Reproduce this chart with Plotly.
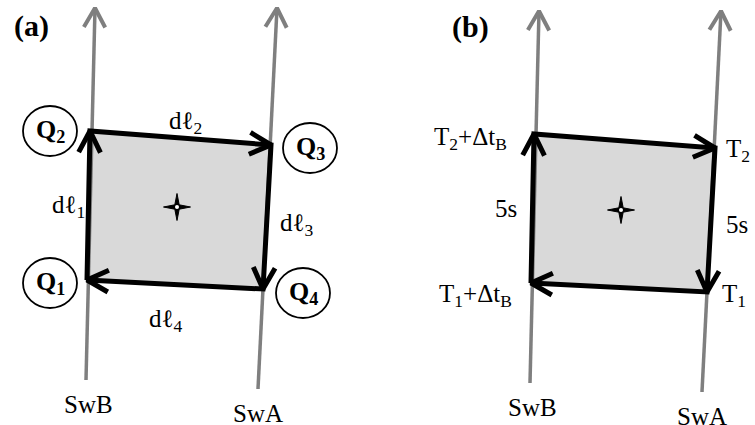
import math
import plotly.graph_objects as go

# ---- diagram data (pixel-like coordinates, y downward) ----
# panel (a) geometry
swb_line = [(86, 380), (95, 8)]      # SwB world line: bottom -> arrow tip
swa_line = [(258, 389), (277, 8)]    # SwA world line
loop_pts = [(87, 280), (90, 131), (271, 145), (263, 289)]  # Q1, Q2, Q3, Q4
star_center = (177, 207)
# panel (b) is the same diagram shifted
panel_offsets = [(0, 0), (444, 3)]
panel_names = ["(a)", "(b)"]
panel_name_pos = [(31, 26), (470, 27)]

# circled point labels of panel (a)
q_labels = ["Q<sub>1</sub>", "Q<sub>2</sub>", "Q<sub>3</sub>", "Q<sub>4</sub>"]
q_centers = [(50, 283), (50, 131), (310, 148), (303, 293)]

# segment labels of panel (a)
seg_labels = ["dℓ<sub>1</sub>", "dℓ<sub>2</sub>", "dℓ<sub>3</sub>", "dℓ<sub>4</sub>"]
seg_pos = [(68, 206), (185, 122), (296, 224), (165, 320)]

# time labels of panel (b)
time_labels = ["T<sub>2</sub>+Δt<sub>B</sub>", "5s", "T<sub>1</sub>+Δt<sub>B</sub>",
               "T<sub>2</sub>", "5s", "T<sub>1</sub>"]
time_pos = [(470, 138), (506, 208), (475, 295), (724, 150), (724, 224), (720, 295)]
time_anchor = ["center", "center", "center", "left", "left", "left"]

# switch labels (same for both panels, shifted)
sw_labels = ["SwB", "SwA"]
sw_pos = [(88, 404), (258, 413)]

GRAY = "#7f7f7f"
FILL = "#d9d9d9"
FONT = "Times New Roman, Liberation Serif, Tinos, serif"

fig = go.Figure()


def chevron(tail, tip, length, ang_deg):
    dx, dy = tip[0] - tail[0], tip[1] - tail[1]
    n = math.hypot(dx, dy)
    ux, uy = dx / n, dy / n
    pts = []
    for s in (1, -1):
        a = math.radians(ang_deg) * s
        rx = ux * math.cos(a) - uy * math.sin(a)
        ry = ux * math.sin(a) + uy * math.cos(a)
        pts.append((tip[0] - length * rx, tip[1] - length * ry))
    return [pts[0], tip, pts[1]]


def add_line(pts, color, width):
    fig.add_trace(go.Scatter(x=[p[0] for p in pts], y=[p[1] for p in pts],
                             mode="lines", line=dict(color=color, width=width),
                             hoverinfo="skip", showlegend=False))


for (ox, oy) in panel_offsets:
    sh = lambda p: (p[0] + ox, p[1] + oy)
    loop = [sh(p) for p in loop_pts]
    # shaded cell
    fig.add_trace(go.Scatter(x=[p[0] for p in loop] + [loop[0][0]],
                             y=[p[1] for p in loop] + [loop[0][1]],
                             mode="none", fill="toself", fillcolor=FILL,
                             hoverinfo="skip", showlegend=False))
    # gray world lines with arrowheads
    for ln in (swb_line, swa_line):
        a, b = sh(ln[0]), sh(ln[1])
        add_line([a, b], GRAY, 3.5)
        add_line(chevron(a, b, 22, 29), GRAY, 4)
    # black loop
    add_line(loop + [loop[0]], "black", 5)
    for i in range(4):
        tail, tip = loop[i], loop[(i + 1) % 4]
        add_line(chevron(tail, tip, 24, 27), "black", 5)
    # four-point star
    cx, cy = sh(star_center)
    R, r = 13.5, 2.2
    sx, sy = [], []
    for k in range(8):
        ang = math.pi / 4 * k
        rad = R if k % 2 == 0 else r * math.sqrt(2)
        sx.append(cx + rad * math.cos(ang))
        sy.append(cy + rad * math.sin(ang))
    sx.append(sx[0]); sy.append(sy[0])
    fig.add_trace(go.Scatter(x=sx, y=sy, mode="lines", fill="toself",
                             fillcolor="black", line=dict(color="black", width=1),
                             hoverinfo="skip", showlegend=False))
    fig.add_trace(go.Scatter(x=[cx], y=[cy], mode="markers",
                             marker=dict(color="white", size=4, line=dict(width=0)),
                             hoverinfo="skip", showlegend=False))
    # switch labels
    for t, p in zip(sw_labels, sw_pos):
        q = sh(p)
        fig.add_annotation(x=q[0], y=q[1], text=t, showarrow=False,
                           font=dict(family=FONT, size=25, color="black"))

# panel titles
for t, p in zip(panel_names, panel_name_pos):
    fig.add_annotation(x=p[0], y=p[1], text="<b>" + t + "</b>", showarrow=False,
                       font=dict(family=FONT, size=30, color="black"))

# circled Q labels
for t, p in zip(q_labels, q_centers):
    fig.add_shape(type="circle", x0=p[0] - 27, x1=p[0] + 27, y0=p[1] - 25, y1=p[1] + 25,
                  line=dict(color="black", width=1.8), layer="above")
    fig.add_annotation(x=p[0], y=p[1], text="<b>" + t + "</b>", showarrow=False,
                       font=dict(family=FONT, size=26, color="black"))

for t, p in zip(seg_labels, seg_pos):
    fig.add_annotation(x=p[0], y=p[1], text=t, showarrow=False,
                       font=dict(family=FONT, size=25, color="black"))

for t, p, anc in zip(time_labels, time_pos, time_anchor):
    fig.add_annotation(x=p[0], y=p[1], text=t, showarrow=False, xanchor=anc,
                       font=dict(family=FONT, size=25, color="black"))

fig.update_layout(width=755, height=425, margin=dict(l=0, r=0, t=0, b=0),
                  paper_bgcolor="white", plot_bgcolor="white",
                  xaxis=dict(range=[0, 755], visible=False, fixedrange=True),
                  yaxis=dict(range=[425, 0], visible=False, fixedrange=True),
                  showlegend=False)

fig.write_html("out.html", config={"displayModeBar": False},
               post_script="document.body.style.margin='0';document.body.style.overflow='hidden';")
